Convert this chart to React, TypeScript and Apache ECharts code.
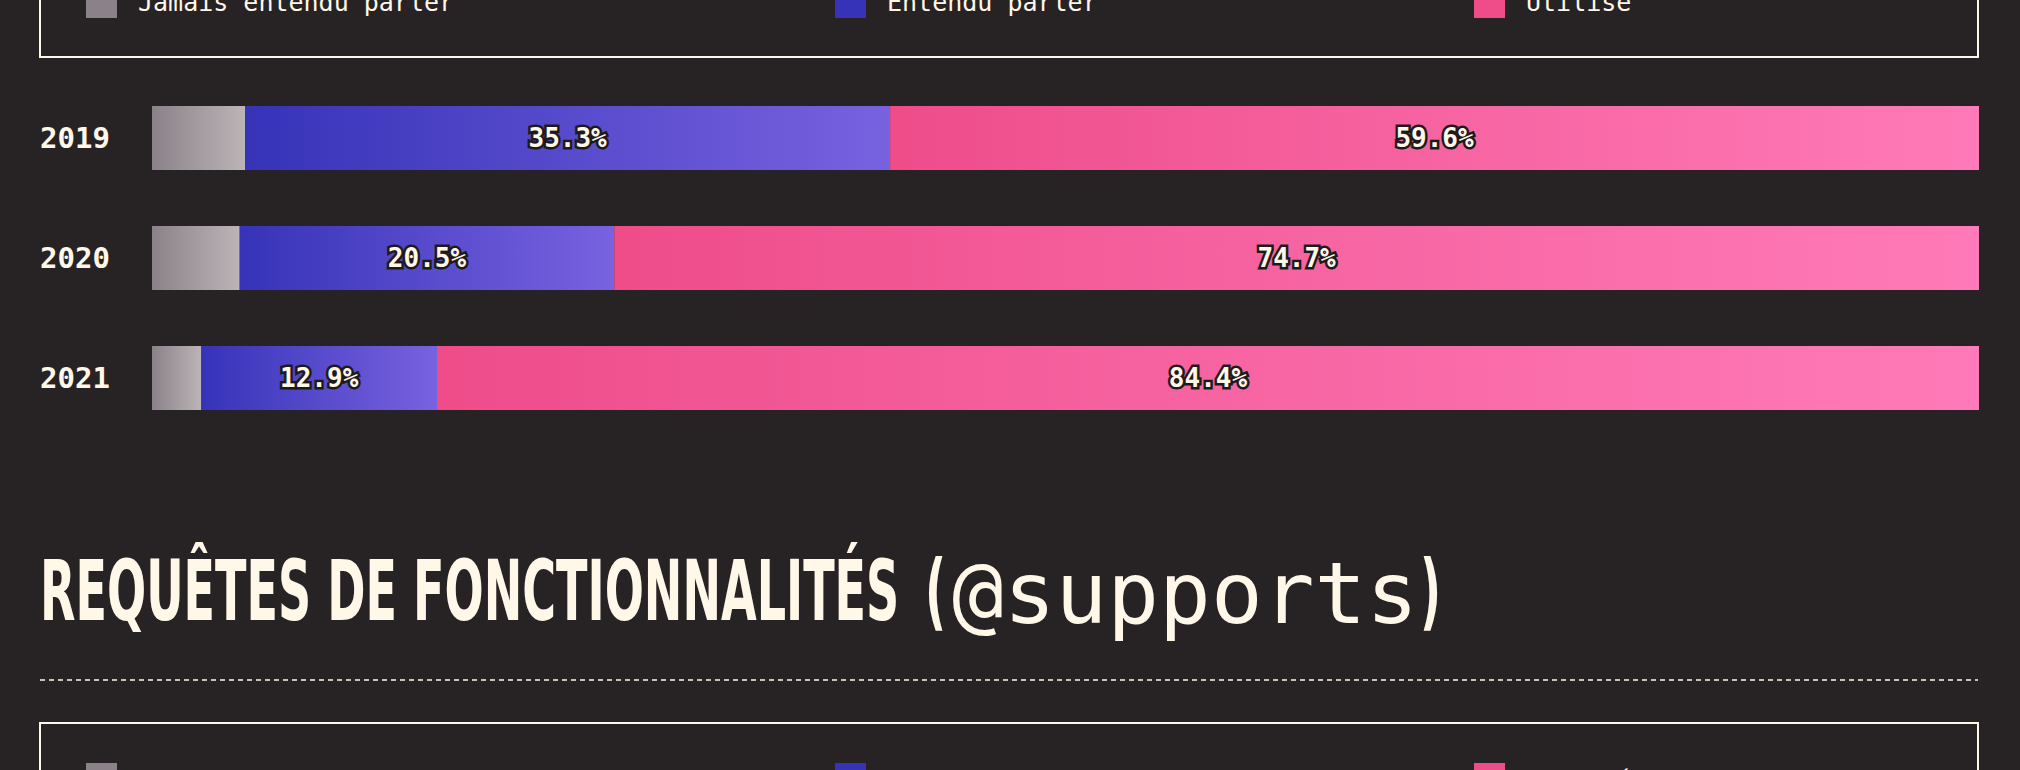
import React, { useEffect, useRef } from "react";
import * as echarts from "echarts";

const years = ["2019", "2020", "2021"];
const neverHeard = [5.1, 4.8, 2.7];
const heard = [35.3, 20.5, 12.9];
const used = [59.6, 74.7, 84.4];
const legendLabels = ["Jamais entendu parler", "Entendu parler", "Utilisé"];

const BG = "#272325";
const CREAM = "#fff7e8";
const MONO = "'DejaVu Sans Mono', 'Liberation Mono', monospace";
const COND = "bold 84px 'DejaVu Sans Condensed', 'DejaVu Sans'";

const grad = (a: string, b: string) =>
  new echarts.graphic.LinearGradient(0, 0, 1, 0, [
    { offset: 0, color: a },
    { offset: 1, color: b },
  ]);

export default function App() {
  const ref = useRef<HTMLDivElement>(null);
  useEffect(() => {
    document.body.style.margin = "0";
    document.body.style.background = BG;
    const chart = echarts.init(ref.current!, null, { renderer: "svg" });
    const label = (show: boolean) => ({
      show,
      position: "inside",
      formatter: (p: any) => p.value.toFixed(1) + "%",
      color: CREAM,
      fontFamily: MONO,
      fontWeight: "bold",
      fontSize: 26,
      textBorderColor: "#1e1a1c",
      textBorderWidth: 5,
    });
    const legendColors = ["#8a8288", "#3633b8", "#ee4d8a"];
    const legendX = [86, 835, 1474];
    const legendItems = (sy: number, ty: number) =>
      legendLabels.flatMap((t, i) => [
        { type: "rect", shape: { x: legendX[i], y: sy, width: 31, height: 31 }, style: { fill: legendColors[i] } },
        {
          type: "text",
          x: legendX[i] + 52,
          y: ty,
          style: { text: t, fill: CREAM, font: `25px ${MONO}`, textVerticalAlign: "middle" },
        },
      ]);
    const TY = 632;
    chart.setOption({
      animation: false,
      backgroundColor: BG,
      grid: { left: 152, right: 41, top: 78, bottom: 332 },
      xAxis: { type: "value", min: 0, max: 100, show: false },
      yAxis: {
        type: "category",
        data: years,
        inverse: true,
        axisLine: { show: false },
        axisTick: { show: false },
        axisLabel: {
          align: "left",
          margin: 112,
          color: CREAM,
          fontFamily: MONO,
          fontWeight: "bold",
          fontSize: 29,
        },
      },
      series: [
        { name: legendLabels[0], type: "bar", stack: "s", data: neverHeard, barWidth: 64, label: label(false), itemStyle: { color: grad("#8a8288", "#bcb4b7") } },
        { name: legendLabels[1], type: "bar", stack: "s", data: heard, barWidth: 64, label: label(true), itemStyle: { color: grad("#3633b8", "#7862e0") } },
        { name: legendLabels[2], type: "bar", stack: "s", data: used, barWidth: 64, label: label(true), itemStyle: { color: grad("#ee4d8a", "#ff7ab8") } },
      ],
      graphic: [
        { type: "rect", shape: { x: 40, y: -40, width: 1938, height: 97 }, style: { fill: "none", stroke: CREAM, lineWidth: 2 } },
        ...legendItems(-13, 2),
        {
          type: "text",
          x: 40,
          y: TY,
          scaleX: 0.61,
          style: { text: "REQUÊTES DE FONCTIONNALITÉS", fill: CREAM, font: COND, textVerticalAlign: "bottom" },
        },
        {
          type: "text",
          x: 925,
          y: TY,
          scaleX: 0.61,
          style: { text: "(", fill: CREAM, font: COND, textVerticalAlign: "bottom" },
        },
        {
          type: "text",
          x: 952,
          y: TY + 4,
          style: { text: "@supports", fill: CREAM, font: `86px ${MONO}`, textVerticalAlign: "bottom" },
        },
        {
          type: "text",
          x: 1420,
          y: TY,
          scaleX: 0.61,
          style: { text: ")", fill: CREAM, font: COND, textVerticalAlign: "bottom" },
        },
        { type: "line", shape: { x1: 40, y1: 680, x2: 1978, y2: 680 }, style: { stroke: CREAM, lineWidth: 1.5, lineDash: [5, 4] } },
        { type: "rect", shape: { x: 40, y: 723, width: 1938, height: 120 }, style: { fill: "none", stroke: CREAM, lineWidth: 2 } },
        ...legendItems(763, 780),
      ],
    });
    return () => chart.dispose();
  }, []);
  return <div ref={ref} style={{ width: 2020, height: 770 }} />;
}
